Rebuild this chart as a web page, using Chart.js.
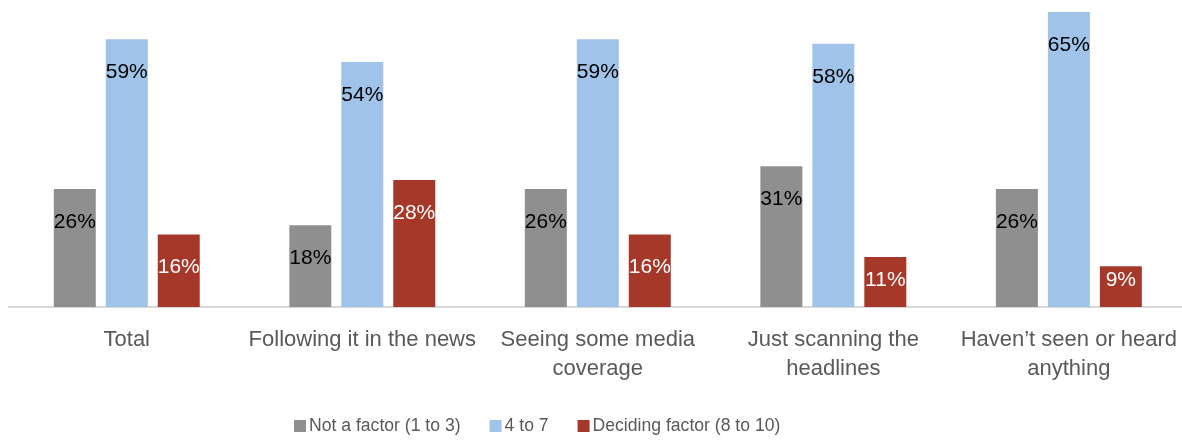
<!DOCTYPE html>
<html>
<head>
<meta charset="utf-8">
<script src="https://cdn.jsdelivr.net/npm/chart.js@4"></script>
<style>
  html, body { margin: 0; padding: 0; background: #fff; overflow: hidden; }
  #wrap { width: 1182px; height: 442px; overflow: hidden; }
</style>
</head>
<body>
<div id="wrap"><canvas id="myChart" width="1196" height="442"></canvas></div>
<script>
var categories = [
  ["Total"],
  ["Following it in the news"],
  ["Seeing some media", "coverage"],
  ["Just scanning the", "headlines"],
  ["Haven\u2019t seen or heard", "anything"]
];
var seriesNames = ["Not a factor (1 to 3)", "4 to 7", "Deciding factor (8 to 10)"];
var notFactor = [26, 18, 26, 31, 26];
var midRange = [59, 54, 59, 58, 65];
var deciding = [16, 28, 16, 11, 9];

var barColors = ["#8f8f8f", "#9fc3e9", "#a53828"];
var labelColors = ["#000000", "#000000", "#ffffff"];
var FONT = "'Liberation Sans', Arial, sans-serif";

// percentage labels inside the top of each bar
const valueLabels = {
  id: "valueLabels",
  afterDatasetsDraw(chart) {
    const ctx = chart.ctx;
    ctx.save();
    ctx.font = "21px " + FONT;
    ctx.textAlign = "center";
    ctx.textBaseline = "middle";
    chart.data.datasets.forEach((ds, i) => {
      chart.getDatasetMeta(i).data.forEach((bar, j) => {
        let y = Math.min(bar.y + 33, bar.base - 27);
        ctx.fillStyle = labelColors[i];
        ctx.fillText(ds.data[j] + "%", bar.x, y);
      });
    });
    ctx.restore();
  }
};

// legend row under the axis labels
const bottomLegend = {
  id: "bottomLegend",
  afterDraw(chart) {
    const ctx = chart.ctx;
    ctx.save();
    ctx.font = "17.6px " + FONT;
    ctx.textBaseline = "middle";
    let x = 294;
    const y = 426;
    chart.data.datasets.forEach(ds => {
      ctx.fillStyle = ds.backgroundColor;
      ctx.fillRect(x, y - 6, 12, 12);
      x += 15;
      ctx.fillStyle = "#595959";
      ctx.fillText(ds.label, x, y);
      x += ctx.measureText(ds.label).width + 29;
    });
    ctx.restore();
  }
};

new Chart("myChart", {
  type: "bar",
  data: {
    labels: categories,
    datasets: [
      { label: seriesNames[0], data: notFactor, backgroundColor: barColors[0] },
      { label: seriesNames[1], data: midRange, backgroundColor: barColors[1] },
      { label: seriesNames[2], data: deciding, backgroundColor: barColors[2] }
    ]
  },
  options: {
    responsive: false,
    animation: false,
    devicePixelRatio: 1,
    layout: { padding: { top: 12, left: 9, right: 9, bottom: 0 } },
    datasets: {
      bar: {
        categoryPercentage: 0.662,
        barPercentage: 0.808
      }
    },
    plugins: {
      legend: { display: false },
      tooltip: { enabled: false }
    },
    scales: {
      x: {
        grid: { display: false, drawTicks: false },
        border: { display: true, color: "#d9d9d9", width: 2 },
        ticks: {
          color: "#595959",
          font: { family: FONT, size: 22, lineHeight: 1.32 },
          padding: 18,
          maxRotation: 0,
          minRotation: 0,
          autoSkip: false
        },
        afterFit(scale) { scale.height = 135; }
      },
      y: {
        display: false,
        min: 0,
        max: 65
      }
    }
  },
  plugins: [valueLabels, bottomLegend]
});
</script>
</body>
</html>
